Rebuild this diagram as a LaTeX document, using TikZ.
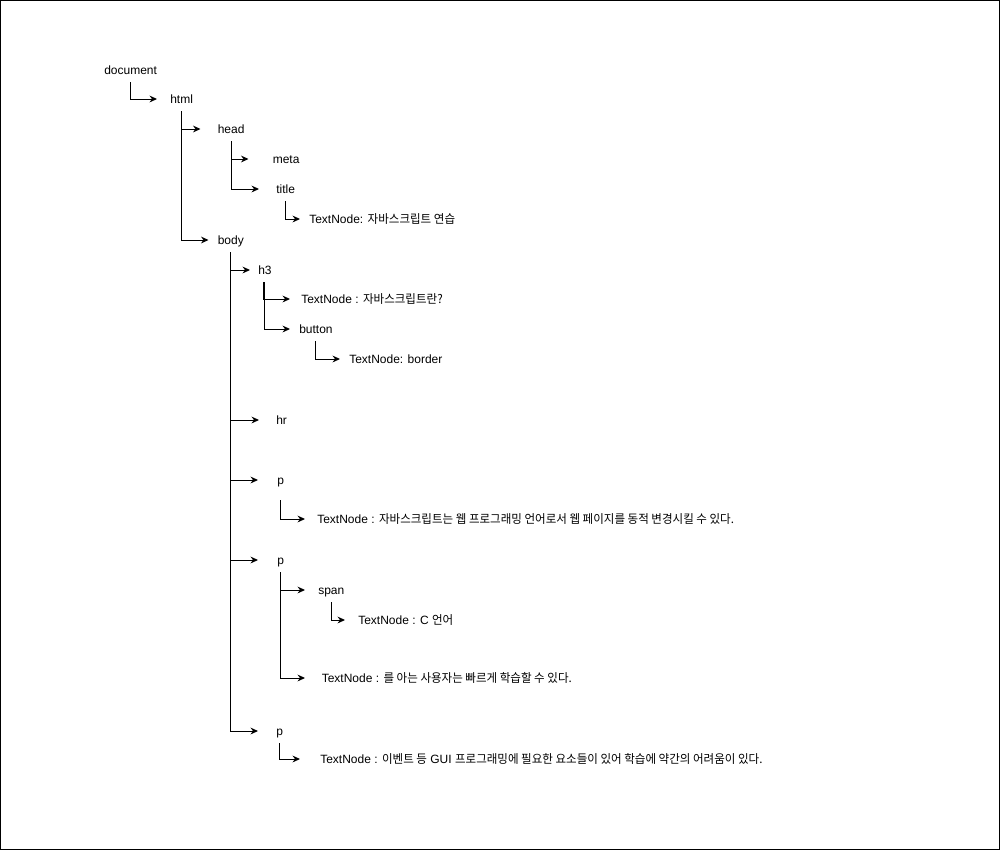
\documentclass[tikz,border=0pt]{standalone}
\usepackage{fontspec}
\setmainfont{Liberation Sans}
\newfontfamily\kr[FakeStretch=0.96]{Noto Sans CJK KR}
\usetikzlibrary{arrows.meta}
\tikzset{
  lbl/.style={anchor=west, inner sep=0pt, text height=8.25pt, text depth=1.9pt,
    minimum height=18pt, font=\fontsize{9pt}{10.8pt}\selectfont},
  conn/.style={draw, line width=0.75pt, -{Stealth[length=5.6pt,width=5.1pt]}},
}
\begin{document}
\begin{tikzpicture}[x=0.75pt, y=-0.75pt]
\useasboundingbox (0,0) rectangle (1001,851);
\draw[line width=0.75pt] (0.5,0.5) rectangle (999.5,849.5);

\node[lbl] (doc) at (104,70) {document};
\node[lbl] (html) at (170,99) {html};
\node[lbl] (head) at (217.5,129) {head};
\node[lbl] (meta) at (272.5,159) {meta};
\node[lbl] (title) at (276,189) {title};
\node[lbl] (tn1) at (309,219) {TextNode: {\kr 자바스크립트 연습}};
\node[lbl] (body) at (217.5,240) {body};
\node[lbl] (h3) at (258,270) {h3};
\node[lbl] (tn2) at (301,299) {TextNode : {\kr 자바스크립트란?}};
\node[lbl] (button) at (299,329) {button};
\node[lbl] (tn3) at (349,359) {TextNode: border};
\node[lbl] (hr) at (276,420) {hr};
\node[lbl] (p1) at (277,480) {p};
\node[lbl] (tn4) at (317,519) {TextNode : {\kr 자바스크립트는 웹 프로그래밍 언어로서 웹 페이지를 동적 변경시킬 수 있다.}};
\node[lbl] (p2) at (277,560) {p};
\node[lbl] (span) at (318,590) {span};
\node[lbl] (tn5) at (358,620) {TextNode : C {\kr 언어}};
\node[lbl] (tn6) at (321.5,678) {TextNode : {\kr 를 아는 사용자는 빠르게 학습할 수 있다.}};
\node[lbl] (p3) at (276,731) {p};
\node[lbl] (tn7) at (320,759) {TextNode : {\kr 이벤트 등} GUI {\kr 프로그래밍에 필요한 요소들이 있어 학습에 약간의 어려움이 있다.}};

\draw[conn, shorten >=9.75pt] (doc.south) |- (html.west);
\draw[conn, shorten >=12.75pt] (html.south) |- (head.west);
\draw[conn, shorten >=6.75pt] (html.south) |- (body.west);
\draw[conn, shorten >=18pt] (head.south) |- (meta.west);
\draw[conn, shorten >=12.75pt] (head.south) |- (title.west);
\draw[conn, shorten >=6.75pt] (title.south) |- (tn1.west);
\draw[conn, shorten >=6pt] (body.south) |- (h3.west);
\draw[conn, shorten >=12.75pt] (body.south) |- (hr.west);
\draw[conn, shorten >=14.25pt] (body.south) |- (p1.west);
\draw[conn, shorten >=14.25pt] (body.south) |- (p2.west);
\draw[conn, shorten >=13.5pt] (body.south) |- (p3.west);
\draw[conn, shorten >=8.25pt] ([xshift=-0.75pt]h3.south) |- (tn2.west);
\draw[conn, shorten >=6.75pt] (h3.south) |- (button.west);
\draw[conn, shorten >=6.75pt] (button.south) |- (tn3.west);
\draw[conn, shorten >=9pt] ([yshift=-6pt]p1.south) |- (tn4.west);
\draw[conn, shorten >=9.75pt] (p2.south) |- (span.west);
\draw[conn, shorten >=12.375pt] (p2.south) |- (tn6.west);
\draw[conn, shorten >=9.75pt] (span.south) |- (tn5.west);
\draw[conn, shorten >=15pt] (p3.south) |- (tn7.west);
\end{tikzpicture}
\end{document}
